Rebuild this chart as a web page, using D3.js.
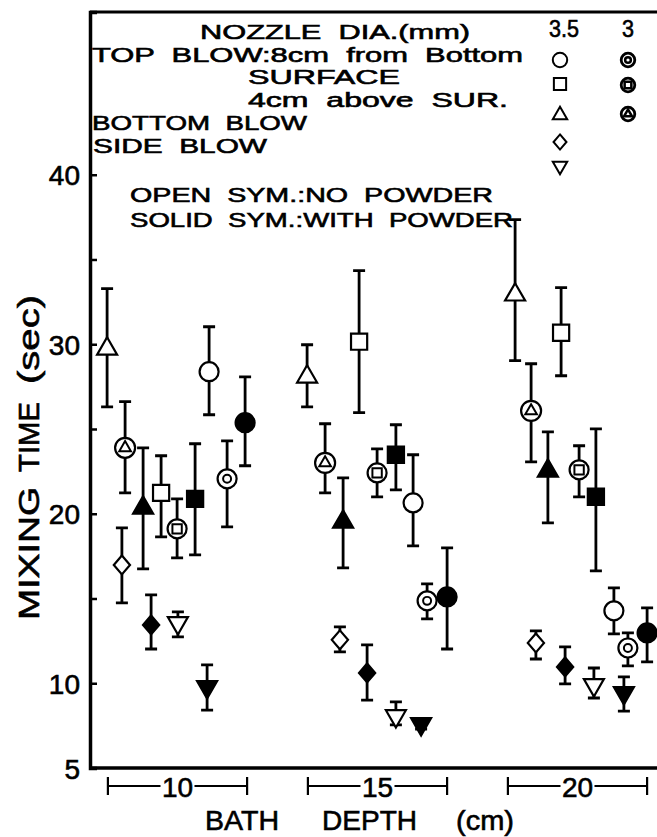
<!DOCTYPE html>
<html>
<head>
<meta charset="utf-8">
<script src="https://cdn.jsdelivr.net/npm/d3@7"></script>
<style>
  body { margin: 0; background: #fff; }
  text { font-family: "Liberation Sans", Arial, sans-serif; fill: #000; stroke: #000; stroke-width: 0.6px; }
</style>
</head>
<body>
<div id="chart"></div>
<script>
// ---- data ----
const depths = [10, 15, 20];          // bath depth, cm
const bracketHalf = 1.74;             // half width of the depth bracket, cm
const yTicks = [5, 10, 15, 20, 25, 30, 35, 40];
const yLabels = [5, 10, 20, 30, 40];

// mean / lower / upper mixing time (sec) and dodge (cm) at depth 10, 15, 20
const top8Open    = { mean: [28.38, 20.64, 14.27], lo: [25.84, 18.11, 12.91], hi: [31.03, 23.48, 15.63], dx: [0.79, 0.89, 0.91] };
const top8Ring    = { mean: [22.06, 14.86, 12.08], lo: [19.23, 13.80, 11.02], hi: [24.30, 15.86, 12.97], dx: [1.24, 1.24, 1.26] };
const top8Solid   = { mean: [25.37, 15.09, 12.97], lo: [22.83, 12.02, 11.26], hi: [28.08, 17.99, 14.45], dx: [1.69, 1.74, 1.74] };
const surfOpen    = { mean: [21.23, 30.15, 30.68], lo: [18.64, 25.96, 28.14], hi: [23.42, 34.34, 33.34], dx: [-0.41, -0.46, -0.41] };
const surfRing    = { mean: [19.11, 22.41, 22.59], lo: [17.40, 21.00, 21.00], hi: [20.88, 23.83, 24.01], dx: [-0.01, -0.01, 0.04] };
const surfSolid   = { mean: [20.88, 23.48, 21.00], lo: [17.57, 21.41, 16.63], hi: [24.13, 25.25, 25.01], dx: [0.44, 0.46, 0.46] };
const aboveOpen   = { mean: [29.73, 28.08, 32.92], lo: [26.31, 26.31, 29.03], hi: [33.28, 29.97, 37.35], dx: [-1.76, -1.76, -1.56] };
const aboveRing   = { mean: [23.89, 23.00, 26.07], lo: [21.23, 21.23, 23.06], hi: [26.61, 25.31, 28.85], dx: [-1.31, -1.31, -1.16] };
const aboveSolid  = { mean: [20.35, 19.52, 22.53], lo: [16.75, 16.81, 19.46], hi: [23.89, 22.12, 24.83], dx: [-0.86, -0.86, -0.74] };
const bottomOpen  = { mean: [16.98, 12.56, 12.38], lo: [14.74, 11.85, 11.43], hi: [19.17, 13.32, 13.09], dx: [-1.39, -0.94, -1.04] };
const bottomSolid = { mean: [13.44, 10.61, 10.96], lo: [12.02, 9.01, 9.96], hi: [15.21, 12.26, 12.14], dx: [-0.66, -0.26, -0.31] };
const sideOpen    = { mean: [13.56, 8.07, 9.90], lo: [12.73, 7.54, 9.13], hi: [14.21, 8.90, 10.90], dx: [0.01, 0.46, 0.41] };
const sideSolid   = { mean: [9.78, 7.60, 9.43], lo: [8.42, 7.30, 8.36], hi: [11.08, 7.60, 10.37], dx: [0.74, 1.09, 1.16] };

const series = [
  { d: aboveOpen,   shape: "tri",     kind: "open"  },
  { d: aboveRing,   shape: "tri",     kind: "ring"  },
  { d: aboveSolid,  shape: "tri",     kind: "solid" },
  { d: surfOpen,    shape: "square",  kind: "open"  },
  { d: surfRing,    shape: "square",  kind: "ring"  },
  { d: surfSolid,   shape: "square",  kind: "solid" },
  { d: top8Open,    shape: "circle",  kind: "open"  },
  { d: top8Ring,    shape: "circle",  kind: "ring"  },
  { d: top8Solid,   shape: "circle",  kind: "solid" },
  { d: bottomOpen,  shape: "diamond", kind: "open"  },
  { d: bottomSolid, shape: "diamond", kind: "solid" },
  { d: sideOpen,    shape: "invtri",  kind: "open"  },
  { d: sideSolid,   shape: "invtri",  kind: "solid" }
];

// ---- layout ----
const W = 657, H = 837;
const svg = d3.select("#chart").append("svg").attr("width", W).attr("height", H);

const x = d3.scaleLinear().domain([7.8125, 22]).range([90, 657.5]);
const y = d3.scaleLinear().domain([5, 49.6]).range([768, 12]);

// shape paths centred on 0,0; s = nominal radius
function shapePath(shape, s) {
  const p = d3.path();
  if (shape === "circle") {
    p.arc(0, 0, s, 0, 2 * Math.PI);
  } else if (shape === "square") {
    const h = s * 0.85;
    p.rect(-h, -h, 2 * h, 2 * h);
  } else if (shape === "tri" || shape === "invtri") {
    const a = s * 2, hh = a * Math.sqrt(3) / 2, k = shape === "tri" ? 1 : -1;
    p.moveTo(0, -k * hh * 2 / 3);
    p.lineTo(a / 2, k * hh / 3);
    p.lineTo(-a / 2, k * hh / 3);
    p.closePath();
  } else if (shape === "diamond") {
    p.moveTo(0, -s * 1.05); p.lineTo(s * 0.9, 0); p.lineTo(0, s * 1.05); p.lineTo(-s * 0.9, 0); p.closePath();
  }
  return p.toString();
}

function drawMarker(g, shape, kind, s, sw) {
  if (kind === "ring") {
    g.append("circle").attr("r", s).attr("fill", "#fff").attr("stroke", "#000").attr("stroke-width", sw);
    const inner = shape === "circle" ? s * 0.42 : s * 0.58;
    g.append("path").attr("d", shapePath(shape, inner))
      .attr("fill", "#fff").attr("stroke", "#000").attr("stroke-width", sw * 0.9);
  } else {
    g.append("path").attr("d", shapePath(shape, s))
      .attr("fill", kind === "solid" ? "#000" : "#fff")
      .attr("stroke", "#000").attr("stroke-width", sw).attr("stroke-linejoin", "miter");
  }
}

function markerSize(shape) {
  return { circle: 9.5, square: 9.5, tri: 10, diamond: 9, invtri: 10 }[shape];
}

// ---- frame ----
svg.append("line").attr("x1", x.range()[0]).attr("x2", W + 5).attr("y1", y(49.6)).attr("y2", y(49.6))
  .attr("stroke", "#000").attr("stroke-width", 3);
svg.append("line").attr("x1", x.range()[0]).attr("x2", W + 5).attr("y1", y(5)).attr("y2", y(5))
  .attr("stroke", "#000").attr("stroke-width", 3.5);

const yAxis = svg.append("g").attr("transform", "translate(" + x.range()[0] + ",0)")
  .call(d3.axisLeft(y).tickValues(yTicks).tickSize(-7).tickPadding(10)
    .tickFormat(d => yLabels.includes(d) ? d : ""));
yAxis.select(".domain").attr("stroke-width", 3.5);
yAxis.selectAll(".tick line").attr("stroke-width", 2.5);
yAxis.selectAll(".tick text").style("font-size", "28px").attr("font-family", null).attr("dy", "0.36em");

// ---- x axis brackets ----
const xg = svg.append("g");
const by = 786, gap = 17;
depths.forEach(dep => {
  const x0 = x(dep - bracketHalf), x1 = x(dep + bracketHalf), xc = x(dep);
  xg.append("path")
    .attr("d", `M${x0},${by}H${xc - gap}M${xc + gap},${by}H${x1}M${x0},${by - 9}V${by + 9}M${x1},${by - 9}V${by + 9}`)
    .attr("stroke", "#000").attr("stroke-width", 2.2).attr("fill", "none");
  xg.append("text").attr("x", xc).attr("y", by + 11).attr("text-anchor", "middle")
    .style("font-size", "28px").text(dep);
});

// axis titles
function fitText(g, str, px, py, size, len) {
  return g.append("text").attr("x", px).attr("y", py).style("font-size", size + "px")
    .attr("textLength", len).attr("lengthAdjust", "spacingAndGlyphs").text(str);
}
fitText(svg, "BATH", 205, 830, 28, 74);
fitText(svg, "DEPTH", 322, 830, 28, 95);
fitText(svg, "(cm)", 456, 830, 28, 58);

const yl = svg.append("g").attr("transform", "translate(39,0) rotate(-90)");
fitText(yl, "MIXING", -620, 0, 30, 133);
fitText(yl, "TIME", -472, 0, 30, 70);
fitText(yl, "(sec)", -384, 0, 30, 89);

// ---- data ----
const plot = svg.append("g");
series.forEach(sr => {
  depths.forEach((dep, i) => {
    const cx = x(dep + sr.d.dx[i]);
    plot.append("path")
      .attr("d", `M${cx},${y(sr.d.hi[i])}V${y(sr.d.lo[i])}M${cx - 6},${y(sr.d.hi[i])}h12M${cx - 6},${y(sr.d.lo[i])}h12`)
      .attr("stroke", "#000").attr("stroke-width", 2.8).attr("fill", "none");
  });
});
series.forEach(sr => {
  depths.forEach((dep, i) => {
    const g = plot.append("g").attr("transform", `translate(${x(dep + sr.d.dx[i])},${y(sr.d.mean[i])})`);
    drawMarker(g, sr.shape, sr.kind, markerSize(sr.shape), 2.2);
  });
});

// ---- legend ----
const lg = svg.append("g");
const legendRows = [
  { t: "NOZZLE  DIA.(mm)",          x: 200, y: 39,  len: 270 },
  { t: "TOP  BLOW:8cm  from  Bottom", x: 92, y: 62, len: 431 },
  { t: "SURFACE",                   x: 248, y: 84,  len: 152 },
  { t: "4cm  above  SUR.",          x: 248, y: 107, len: 260 },
  { t: "BOTTOM  BLOW",              x: 92,  y: 130, len: 215 },
  { t: "SIDE  BLOW",                x: 93,  y: 153, len: 174 },
  { t: "OPEN  SYM.:NO  POWDER",     x: 130, y: 202, len: 363 },
  { t: "SOLID  SYM.:WITH  POWDER",  x: 130, y: 227, len: 383 }
];
legendRows.forEach(r => fitText(lg, r.t, r.x, r.y, 20, r.len).style("white-space", "pre"));
fitText(lg, "3.5", 549, 37, 24, 30);
fitText(lg, "3", 622, 37, 24, 12);

const legendSyms = [
  { shape: "circle",  kind: "open", cx: 560, cy: 60 },
  { shape: "square",  kind: "open", cx: 560, cy: 84 },
  { shape: "tri",     kind: "open", cx: 560, cy: 115 },
  { shape: "diamond", kind: "open", cx: 560, cy: 142 },
  { shape: "invtri",  kind: "open", cx: 560, cy: 166 },
  { shape: "circle",  kind: "ring", cx: 628, cy: 60 },
  { shape: "square",  kind: "ring", cx: 628, cy: 85 },
  { shape: "tri",     kind: "ring", cx: 628, cy: 114 }
];
legendSyms.forEach(s => {
  const g = lg.append("g").attr("transform", `translate(${s.cx},${s.cy})`);
  drawMarker(g, s.shape, s.kind, s.kind === "ring" ? 6.8 : 7.2, s.kind === "ring" ? 2.8 : 2);
});
</script>
</body>
</html>
